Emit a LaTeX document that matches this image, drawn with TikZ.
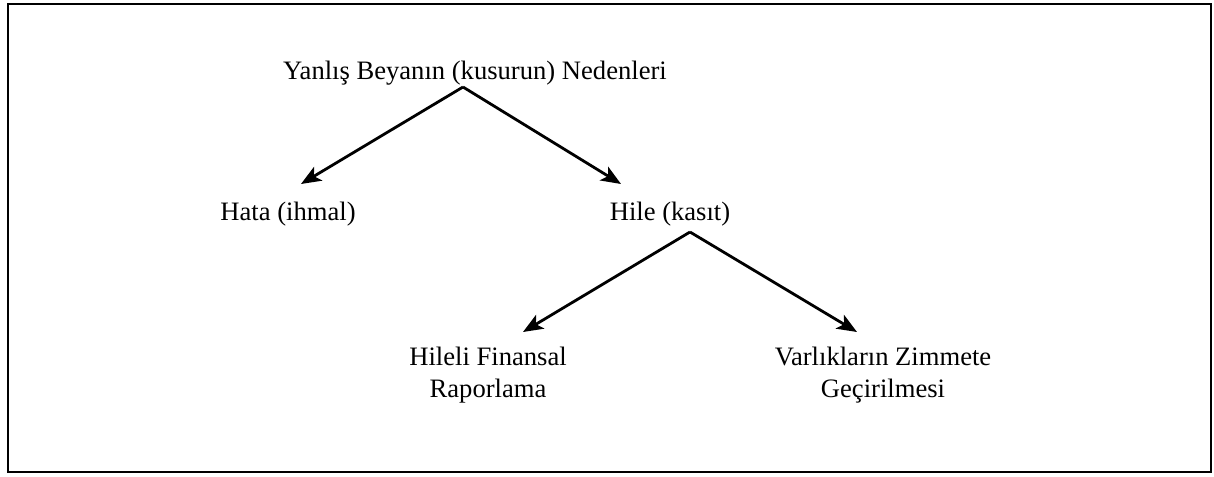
\documentclass[tikz,border=0pt]{standalone}
\usepackage{fontspec}
\setmainfont{Liberation Serif}
\usetikzlibrary{arrows.meta}
\tikzset{
  cause/.style={inner sep=0pt, anchor=base, align=center, font=\fontsize{13.3}{16}\selectfont},
  branch/.style={line width=1.4pt, -{Stealth[length=10pt,width=8pt,inset=2.5pt]}},
}
\begin{document}
\begin{tikzpicture}[x=0.5pt,y=-0.5pt]
    \useasboundingbox (0,0) rectangle (1214,476);
    \draw[line width=1.3pt] (8,4) rectangle (1211,472);

    \node[cause] (root) at (475,80) {Yanlış Beyanın (kusurun) Nedenleri};
    \node[cause] (hata) at (288,220) {Hata (ihmal)};
    \node[cause] (hile) at (670,220) {Hile (kasıt)};
    % two-line nodes: base is the last line
    \node[cause] (finans) at (488,397) {Hileli Finansal\\Raporlama};
    \node[cause] (zimmet) at (883,397) {Varlıkların Zimmete\\Geçirilmesi};

    % fork points and arrow tips
    \coordinate (fork1) at (463,87);
    \coordinate (hataIn) at (301,184);
    \coordinate (hileIn) at (621,184);
    \coordinate (fork2) at (690,232);
    \coordinate (finansIn) at (523,332);
    \coordinate (zimmetIn) at (857,332);

    \draw[branch] (fork1) -- (hataIn);
    \draw[branch] (fork1) -- (hileIn);
    \draw[branch] (fork2) -- (finansIn);
    \draw[branch] (fork2) -- (zimmetIn);
\end{tikzpicture}
\end{document}
